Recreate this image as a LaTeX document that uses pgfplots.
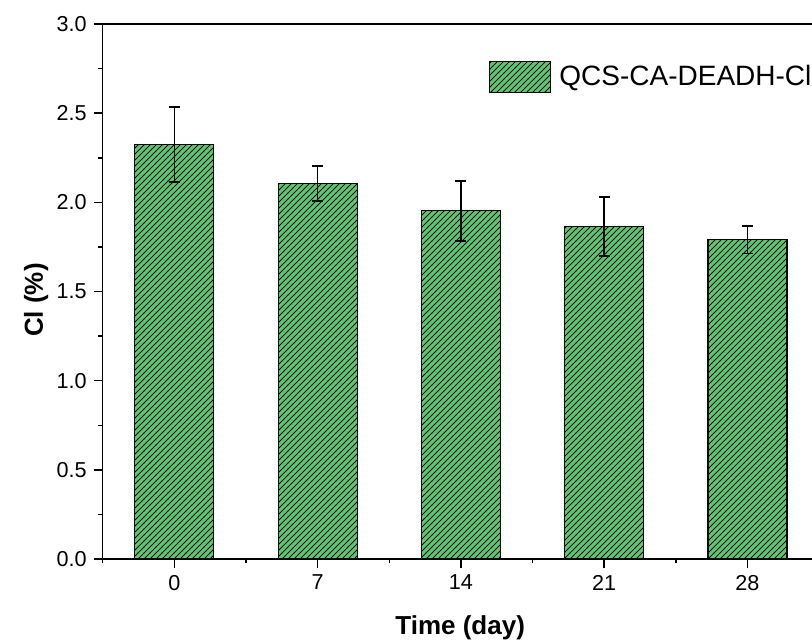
\documentclass[border=0pt]{standalone}
\usepackage{pgfplots}
\pgfplotsset{compat=1.18}
\usepackage{fontspec}
\setmainfont{Liberation Sans}
\usetikzlibrary{patterns}
\definecolor{bargreen}{RGB}{84,205,110}
\begin{document}
\begin{tikzpicture}
\begin{axis}[
  at={(0,0)}, anchor=south west,
  scale only axis,
  width=358.2pt, height=267.5pt,
  xmin=-0.5, xmax=4.5,
  ymin=0, ymax=3,
  xtick={0,1,2,3,4},
  xticklabels={0,7,14,21,28},
  minor xtick={-0.5,0.5,1.5,2.5,3.5,4.5},
  ytick={0,0.5,1,1.5,2,2.5,3},
  minor ytick={0.25,0.75,1.25,1.75,2.25,2.75},
  xtick pos=bottom, ytick pos=left,
  tick align=outside,
  major tick length=4.5pt,
  minor tick length=2.2pt,
  every tick/.style={black, line width=0.75pt},
  axis line style={black, line width=0.75pt},
  /pgf/number format/assume math mode=true,
  yticklabel style={/pgf/number format/fixed, /pgf/number format/precision=1, /pgf/number format/fixed zerofill},
  tick label style={font=\fontsize{10.8}{12}\selectfont},
  xlabel={\textbf{Time (day)}},
  ylabel={\textbf{Cl (\%)}},
  xlabel style={font=\fontsize{13}{15}\selectfont, at={(axis description cs:0.499,-0.129)}, anchor=center},
  ylabel style={font=\fontsize{13}{15}\selectfont, at={(axis description cs:-0.093,0.484)}, anchor=center, rotate=0},
  legend style={at={(axis description cs:0.539,0.901)}, anchor=west, draw=none, fill=none,
    inner sep=0pt, column sep=4pt, font=\fontsize{14}{16}\selectfont,
    nodes={inner sep=0pt}},
  legend image code/.code={\draw[#1] (0pt,-7.65pt) rectangle (30.5pt,7.65pt);},
]
\addplot[ybar, bar width=39.5pt, fill=bargreen, draw=black, line width=0.6pt,
  postaction={pattern=north east lines, pattern color=black},
  error bars/.cd, y dir=both, y explicit,
  error bar style={black, line width=0.7pt},
  error mark options={rotate=90, mark size=2.75pt, line width=0.7pt, black}]
  coordinates {
    (0,2.325) +- (0,0.21)
    (1,2.106) +- (0,0.098)
    (2,1.952) +- (0,0.168)
    (3,1.865) +- (0,0.165)
    (4,1.790) +- (0,0.077)
  };
\addlegendentry{QCS-CA-DEADH-Cl}
\end{axis}
\pgfresetboundingbox
\useasboundingbox (-51.35pt,-42pt) rectangle (354.65pt,279.5pt);
\end{tikzpicture}
\end{document}
